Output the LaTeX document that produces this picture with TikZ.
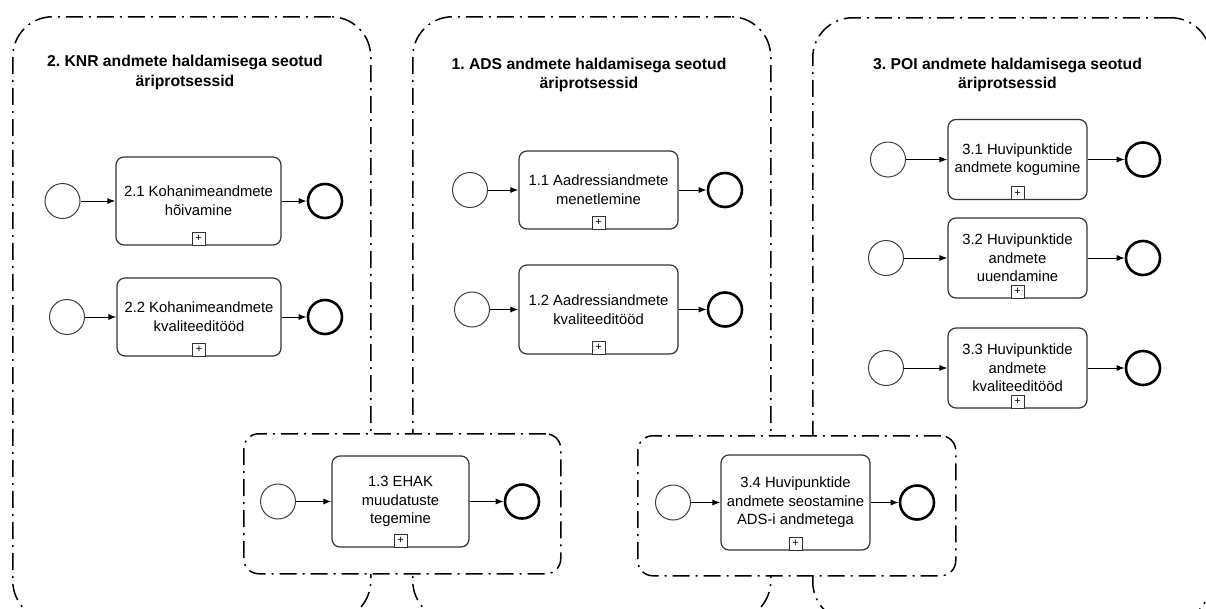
\documentclass[tikz,border=0pt]{standalone}
\usepackage{fontspec}
\setmainfont{Liberation Sans}
\usetikzlibrary{arrows.meta}
\frenchspacing
\begin{document}
\begin{tikzpicture}[x=1pt,y=-1pt,
  grp/.style={draw=black, line width=1.5pt, fill=white,
    dash pattern=on 17pt off 6pt on 2pt off 6pt},
  biggrp/.style={grp, rounded corners=40pt, anchor=north west, inner sep=0pt},
  smallgrp/.style={grp, rounded corners=15pt, anchor=north west, inner sep=0pt},
  grptitle/.style={align=center, font=\fontsize{15.7}{19.5}\selectfont\bfseries},
  task/.style={draw=black!80, line width=1.2pt, rounded corners=8pt, fill=white,
    align=center, inner sep=0pt, font=\fontsize{14.8}{18.6}\selectfont},
  plusbox/.style={draw=black!80, line width=0.9pt, fill=white, minimum size=13pt,
    inner sep=0pt, anchor=south, font=\fontsize{11}{11}\selectfont},
  startev/.style={circle, draw=black!75, line width=1pt, fill=white,
    minimum size=35pt, inner sep=0pt},
  endev/.style={circle, draw=black, line width=2.6pt, fill=white,
    minimum size=34pt, inner sep=0pt},
  flow/.style={draw=black, line width=1pt, -{Latex[length=8pt,width=6pt]}}
]
\useasboundingbox (0,0) rectangle (1206,608);

% process groups
\node[biggrp, minimum width=358pt, minimum height=604pt] (gknr) at (12,16) {};
\node[biggrp, minimum width=358pt, minimum height=604pt] (gads) at (412,16) {};
\node[biggrp, minimum width=398pt, minimum height=604pt] (gpoi) at (812,17) {};
\node[grptitle] (tknr) at (185,72.5) {2. KNR andmete haldamisega seotud\\äriprotsessid};
\node[grptitle] (tads) at (589,75) {1. ADS andmete haldamisega seotud\\äriprotsessid};
\node[grptitle] (tpoi) at (1007.5,75) {3. POI andmete haldamisega seotud\\äriprotsessid};

\node[smallgrp, minimum width=317pt, minimum height=140pt] (gehak) at (243,433) {};
\node[smallgrp, minimum width=318pt, minimum height=140pt] (gseos) at (637,435) {};

% KNR tasks
\node[task, minimum width=165pt, minimum height=88pt] (t21) at (198.5,201) {2.1 Kohanimeandmete\\hõivamine};
\node[task, minimum width=164pt, minimum height=78pt] (t22) at (199,317) {2.2 Kohanimeandmete\\kvaliteeditööd};
% ADS tasks
\node[task, minimum width=159pt, minimum height=78pt] (t11) at (598.5,190) {1.1 Aadressiandmete\\menetlemine};
\node[task, minimum width=159pt, minimum height=89pt] (t12) at (598.5,309.5) {1.2 Aadressiandmete\\kvaliteeditööd};
\node[task, minimum width=137pt, minimum height=91pt] (t13) at (400.5,501.5) {1.3 EHAK\\muudatuste\\tegemine};
% POI tasks
\node[task, minimum width=139pt, minimum height=80pt] (t31) at (1017.5,159.5) {3.1 Huvipunktide\\andmete kogumine};
\node[task, minimum width=139pt, minimum height=80pt] (t32) at (1017.5,258) {3.2 Huvipunktide\\andmete\\uuendamine};
\node[task, minimum width=139pt, minimum height=80pt] (t33) at (1017.5,368) {3.3 Huvipunktide\\andmete\\kvaliteeditööd};
\node[task, minimum width=149pt, minimum height=95pt] (t34) at (795.5,502.5) {3.4 Huvipunktide\\andmete seostamine\\ADS-i andmetega};

% sub-process markers
\foreach \t in {t21,t22,t11,t12,t13,t31,t32,t33,t34}
  \node[plusbox] (\t p) at (\t.south) {+};

% start and end events
\node[startev] (s21) at (62.5,201) {};
\node[endev]   (e21) at (325,201) {};
\node[startev] (s22) at (67,317) {};
\node[endev]   (e22) at (325,317) {};
\node[startev] (s11) at (470,190) {};
\node[endev]   (e11) at (725,190) {};
\node[startev] (s12) at (472,309.5) {};
\node[endev]   (e12) at (725,309.5) {};
\node[startev] (s13) at (278,501.5) {};
\node[endev]   (e13) at (522,501.5) {};
\node[startev] (s31) at (888,159.5) {};
\node[endev]   (e31) at (1143,159.5) {};
\node[startev] (s32) at (886,258) {};
\node[endev]   (e32) at (1143,258) {};
\node[startev] (s33) at (886,368) {};
\node[endev]   (e33) at (1143,368) {};
\node[startev] (s34) at (673,502.5) {};
\node[endev]   (e34) at (917,502.5) {};

% sequence flows
\foreach \t in {21,22,11,12,13,31,32,33,34} {
  \draw[flow] (s\t) -- (t\t);
  \draw[flow] (t\t) -- (e\t);
}
\end{tikzpicture}
\end{document}
